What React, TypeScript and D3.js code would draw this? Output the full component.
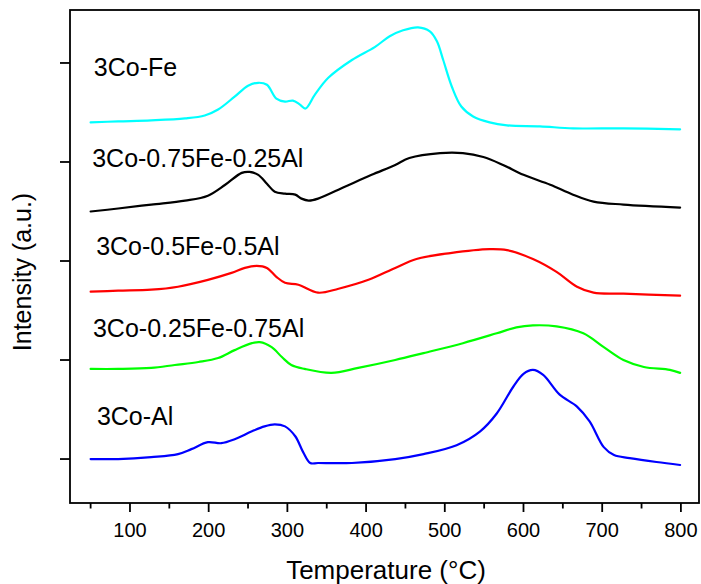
import React from 'react';
import * as d3 from 'd3';

// Temperature (°C) / Intensity (a.u.)
const tCoFe = [50, 85, 127, 170, 195, 212, 233, 250, 263, 274, 286, 297, 307, 316, 323, 335, 352, 382, 411, 430, 447, 466, 481, 490, 498, 509, 521, 536, 557, 579, 621, 663, 727, 799];
const vCoFe = [3.40, 3.41, 3.42, 3.44, 3.47, 3.53, 3.66, 3.77, 3.80, 3.78, 3.64, 3.61, 3.62, 3.58, 3.54, 3.68, 3.85, 4.03, 4.16, 4.27, 4.33, 4.36, 4.32, 4.22, 4.03, 3.76, 3.56, 3.46, 3.40, 3.37, 3.36, 3.34, 3.34, 3.33];

const tFe75 = [50, 85, 127, 170, 199, 221, 242, 252, 263, 274, 284, 297, 310, 318, 327, 339, 373, 407, 437, 455, 494, 523, 549, 574, 600, 634, 663, 689, 727, 799];
const vFe75 = [2.50, 2.53, 2.57, 2.61, 2.66, 2.77, 2.89, 2.90, 2.87, 2.78, 2.70, 2.68, 2.67, 2.63, 2.61, 2.63, 2.75, 2.87, 2.97, 3.04, 3.09, 3.09, 3.05, 2.97, 2.87, 2.77, 2.67, 2.60, 2.57, 2.54];

const tFe50 = [50, 85, 127, 161, 199, 229, 246, 261, 274, 286, 297, 314, 339, 365, 403, 437, 464, 507, 557, 579, 612, 642, 668, 689, 727, 799];
const vFe50 = [1.69, 1.70, 1.71, 1.74, 1.81, 1.88, 1.93, 1.95, 1.93, 1.84, 1.78, 1.76, 1.68, 1.72, 1.81, 1.93, 2.02, 2.08, 2.12, 2.11, 2.02, 1.89, 1.74, 1.68, 1.67, 1.65];

const tFe25 = [50, 85, 127, 157, 187, 212, 233, 255, 265, 280, 293, 305, 322, 356, 390, 437, 473, 523, 566, 591, 612, 642, 676, 702, 727, 753, 786, 799];
const vFe25 = [0.91, 0.91, 0.92, 0.95, 0.98, 1.02, 1.10, 1.17, 1.18, 1.13, 1.03, 0.95, 0.91, 0.87, 0.92, 1.00, 1.07, 1.17, 1.27, 1.33, 1.35, 1.34, 1.27, 1.13, 1.00, 0.93, 0.90, 0.87];

const tCoAl = [50, 85, 127, 161, 178, 199, 216, 233, 255, 271, 284, 297, 310, 320, 329, 339, 382, 437, 473, 515, 545, 566, 587, 600, 612, 625, 646, 668, 684, 702, 715, 735, 769, 799];
const vCoAl = [0.00, 0.00, 0.02, 0.05, 0.10, 0.17, 0.16, 0.20, 0.28, 0.33, 0.35, 0.33, 0.23, 0.07, -0.04, -0.04, -0.04, 0.00, 0.05, 0.14, 0.28, 0.46, 0.73, 0.86, 0.90, 0.85, 0.65, 0.53, 0.38, 0.12, 0.04, 0.01, -0.03, -0.06];

const seriesNames = ['3Co-Fe', '3Co-0.75Fe-0.25Al', '3Co-0.5Fe-0.5Al', '3Co-0.25Fe-0.75Al', '3Co-Al'];
const seriesTemps = [tCoFe, tFe75, tFe50, tFe25, tCoAl];
const seriesVals = [vCoFe, vFe75, vFe50, vFe25, vCoAl];
const seriesColors = ['#00FFFF', '#000000', '#FF0000', '#00FF00', '#0000FF'];

const xMajorTicks = [100, 200, 300, 400, 500, 600, 700, 800];
const xMinorTicks = [50, 150, 250, 350, 450, 550, 650, 750];
const yTicks = [0, 1, 2, 3, 4];

// label anchors (temperature, intensity)
const labelT = [54, 52, 57, 53, 58];
const labelV = [3.87, 2.95, 2.06, 1.23, 0.34];

const W = 701;
const H = 584;
const L = 70, R = 699, T = 10, B = 503;
const FONT = 'Arial, "Liberation Sans", sans-serif';

export default function App() {
  const x = d3.scaleLinear().domain([23.8, 823]).range([L, R]);
  const y = d3.scaleLinear().domain([-0.444, 4.535]).range([B, T]);
  const line = d3
    .line<[number, number]>()
    .x((d) => x(d[0]))
    .y((d) => y(d[1]))
    .curve(d3.curveCatmullRom.alpha(0.5));

  return (
    <svg
      width={W}
      height={H}
      style={{ position: 'absolute', left: 0, top: 0, background: '#fff' }}
      fontFamily={FONT}
    >
      <rect x={0} y={0} width={W} height={H} fill="#fff" />
      {seriesNames.map((name, i) => {
        const pts = seriesTemps[i].map((t, j) => [t, seriesVals[i][j]] as [number, number]);
        return (
          <path key={name} d={line(pts) || ''} fill="none" stroke={seriesColors[i]} strokeWidth={2.2} strokeLinejoin="round" strokeLinecap="round" />
        );
      })}
      {seriesNames.map((name, i) => (
        <text key={'l' + name} x={x(labelT[i])} y={y(labelV[i])} fontSize={25} fill="#000">
          {name}
        </text>
      ))}
      <rect x={L} y={T} width={R - L} height={B - T} fill="none" stroke="#000" strokeWidth={1.8} />
      {xMajorTicks.map((t) => (
        <g key={'xm' + t}>
          <line x1={x(t)} x2={x(t)} y1={B} y2={B + 9} stroke="#000" strokeWidth={1.8} />
          <text x={x(t)} y={B + 34} fontSize={20} textAnchor="middle" fill="#000">
            {t}
          </text>
        </g>
      ))}
      {xMinorTicks.map((t) => (
        <line key={'xn' + t} x1={x(t)} x2={x(t)} y1={B} y2={B + 5.5} stroke="#000" strokeWidth={1.8} />
      ))}
      {yTicks.map((v) => (
        <line key={'y' + v} x1={L - 10} x2={L} y1={y(v)} y2={y(v)} stroke="#000" strokeWidth={1.8} />
      ))}
      <text x={386} y={579} fontSize={26} textAnchor="middle" fill="#000">
        Temperature (°C)
      </text>
      <text
        transform={`translate(31, 272) rotate(-90)`}
        fontSize={25}
        textAnchor="middle"
        fill="#000"
      >
        Intensity (a.u.)
      </text>
    </svg>
  );
}
